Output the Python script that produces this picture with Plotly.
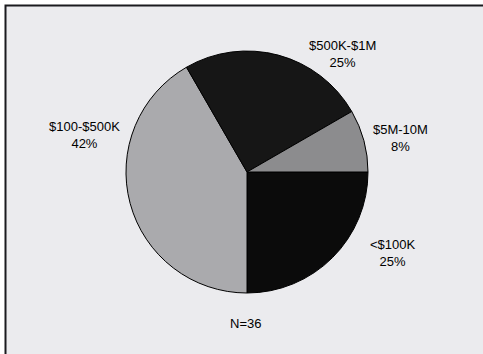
import plotly.graph_objects as go

# survey responses by budget range (N=36)
labels = ["<$100K", "$100-$500K", "$500K-$1M", "$5M-10M"]
counts = [9, 15, 9, 3]
pct_text = ["25%", "42%", "25%", "8%"]
slice_colors = ["#0b0b0b", "#aaaaad", "#161616", "#8c8c8e"]
n_total = "N=36"

# where each label sits (pixels from top-left of the 483x354 page)
label_pos = [(393, 253), (84, 135), (342, 54), (400, 138)]

W, H = 483, 354

fig = go.Figure()

fig.add_trace(
    go.Pie(
        labels=labels,
        values=counts,
        sort=False,
        direction="clockwise",
        rotation=90,
        textinfo="none",
        hoverinfo="label+percent",
        marker=dict(colors=slice_colors, line=dict(color="black", width=1)),
        domain=dict(x=[126 / W, 368 / W], y=[1 - 293 / H, 1 - 51 / H]),
        showlegend=False,
    )
)

# Labels for the slices
for lab, pct, (px, py) in zip(labels, pct_text, label_pos):
    fig.add_annotation(
        x=px / W,
        y=1 - py / H,
        xref="paper",
        yref="paper",
        text=lab + "<br>" + pct,
        showarrow=False,
        font=dict(family="Liberation Sans, Arial", size=13, color="black"),
        xanchor="center",
        yanchor="middle",
    )

fig.add_annotation(
    x=246 / W,
    y=1 - 323 / H,
    xref="paper",
    yref="paper",
    text=n_total,
    showarrow=False,
    font=dict(family="Liberation Sans, Arial", size=13, color="black"),
    xanchor="center",
    yanchor="middle",
)

# Framed grey panel behind the chart (open to the right and bottom)
fig.add_shape(
    type="rect",
    xref="paper",
    yref="paper",
    x0=5.5 / W,
    x1=1.05,
    y0=-0.05,
    y1=1 - 5.5 / H,
    fillcolor="#ebebee",
    line=dict(color="#1a1a1e", width=2),
    layer="below",
)

fig.update_layout(
    width=W,
    height=H,
    margin=dict(l=0, r=0, t=0, b=0),
    paper_bgcolor="white",
    plot_bgcolor="white",
)

fig.write_html(
    "out.html",
    config={"displayModeBar": False},
    post_script="document.body.style.margin='0';",
)
